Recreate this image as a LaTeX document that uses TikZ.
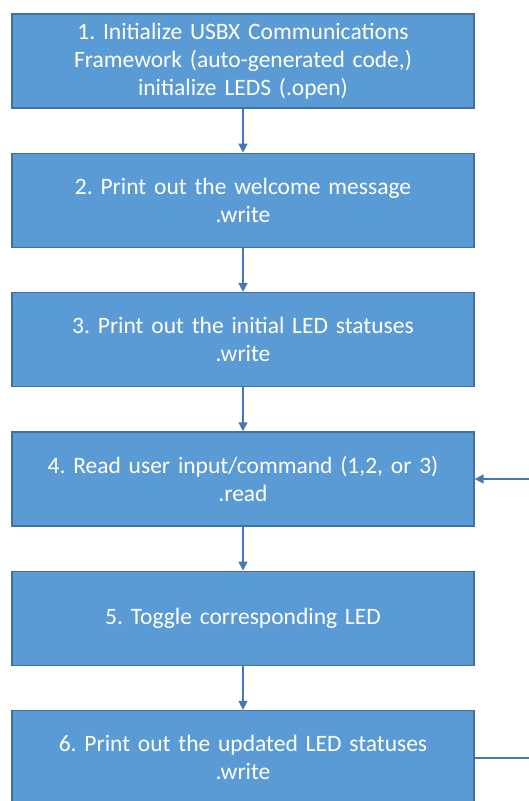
\documentclass[tikz,border=0pt]{standalone}
\usepackage{fontspec}
\setmainfont{Carlito}
\usetikzlibrary{positioning,arrows.meta}

\definecolor{boxfill}{HTML}{5B9BD5}
\definecolor{boxline}{HTML}{41719C}
\definecolor{arrowline}{HTML}{4A76B4}

\tikzstyle{stepbox} = [draw=boxline, line width=1.3pt, fill=boxfill, text=white,
  minimum width=462pt, minimum height=94pt, text width=450pt, align=center,
  inner sep=0pt, font=\fontsize{23.5}{28}\selectfont\frenchspacing]
\tikzstyle{flow} = [draw=arrowline, line width=1.4pt, -{Triangle[width=9pt,length=9pt]}]

\begin{document}
\begin{tikzpicture}[node distance=44pt]
\useasboundingbox (0,0) rectangle (529pt,-801pt);
\clip (0,0) rectangle (529pt,-801pt);
%step1
\node[stepbox] (init) at (243pt,-61pt) {1. Initialize USBX Communications\\Framework (auto-generated code,)\\initialize LEDS (.open)};
%step2
\node[stepbox, below=of init] (welcome) {2. Print out the welcome message\\.write};
%step3
\node[stepbox, below=of welcome] (initstat) {3. Print out the initial LED statuses\\.write};
%step4
\node[stepbox, below=of initstat] (readcmd) {4. Read user input/command (1,2, or 3)\\.read};
%step5
\node[stepbox, below=of readcmd] (toggle) {5. Toggle corresponding LED};
%step6
\node[stepbox, below=of toggle] (updstat) {6. Print out the updated LED statuses\\.write};
%loop ends at the right edge
\coordinate (loopin) at (529pt,-479pt);
\coordinate (loopout) at (529pt,-758pt);
%connectors
\draw[flow] (init) -- (welcome);
\draw[flow] (welcome) -- (initstat);
\draw[flow] (initstat) -- (readcmd);
\draw[flow] (readcmd) -- (toggle);
\draw[flow] (toggle) -- (updstat);
\draw[flow] (loopin) -- (readcmd.east |- loopin);
\draw[draw=arrowline, line width=1.4pt] (updstat.east |- loopout) -- (loopout);
\end{tikzpicture}
\end{document}
